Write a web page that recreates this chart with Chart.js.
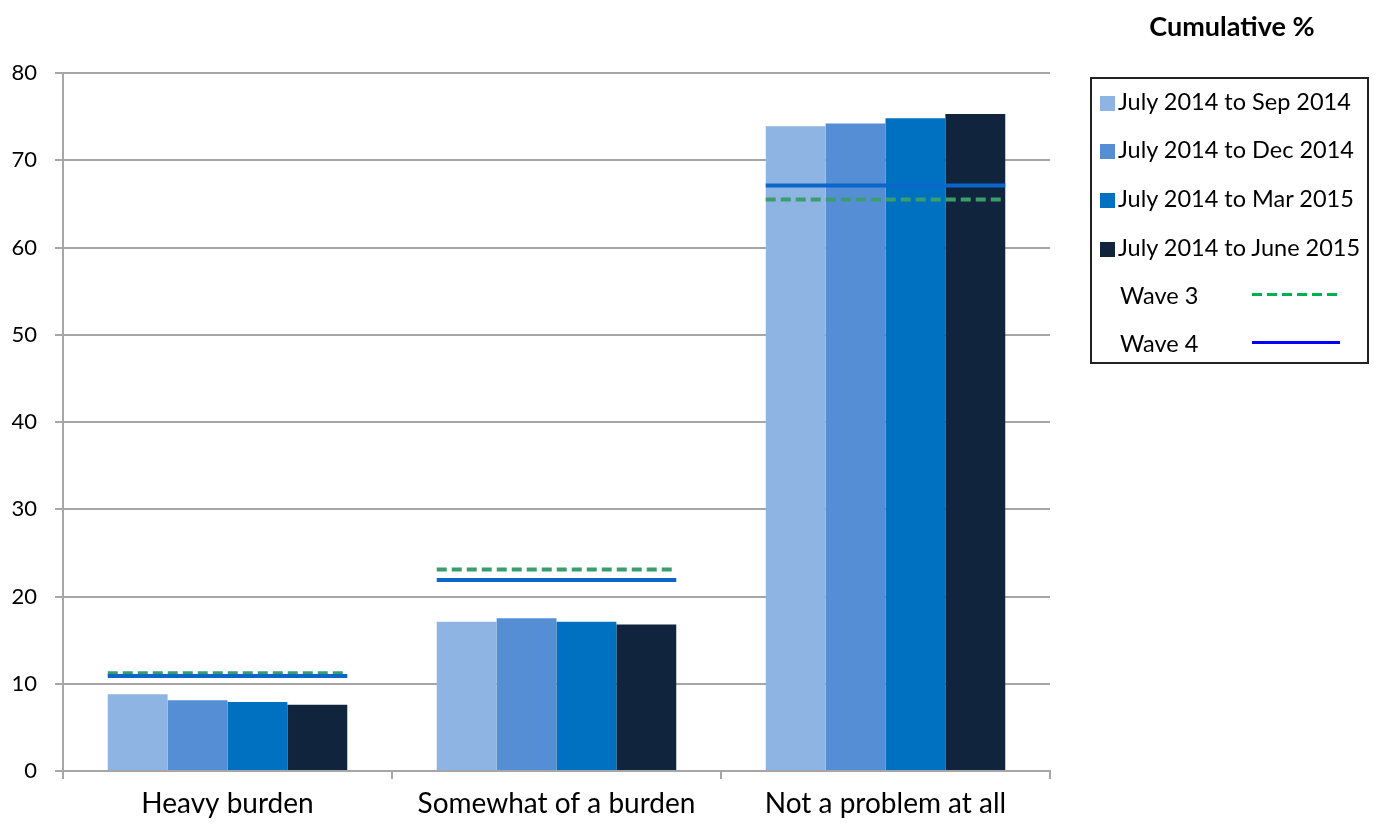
<!DOCTYPE html>
<html>
<head>
<meta charset="utf-8">
<script src="https://cdn.jsdelivr.net/npm/chart.js@4.4.1/dist/chart.umd.min.js"></script>
<style>
  html, body { margin: 0; padding: 0; background: #fff; }
  #wrap { position: relative; width: 1378px; height: 829px; }
  #titre {
    position: absolute; left: 1090px; width: 284px; top: 9px;
    text-align: center; font: bold 27px Lato, sans-serif; color: #000;
  }
  #legende {
    position: absolute; left: 1090px; top: 77px; width: 279px; height: 287px;
    border: 2px solid #222; box-sizing: border-box; font: 23.5px Lato, sans-serif; color: #000;
  }
  .item { position: absolute; left: 8px; height: 26px; line-height: 26px; white-space: nowrap; }
  .carre { display: inline-block; width: 15px; height: 15px; margin-right: 3px; vertical-align: -1px; }
  .trait { position: absolute; left: 132px; width: 88px; top: 11px; height: 3px; }
</style>
</head>
<body>
<div id="wrap">
  <canvas id="grafico" width="1378" height="829"></canvas>
  <div id="titre">Cumulative %</div>
  <div id="legende"></div>
</div>
<script>
// Dados do gráfico
const categorias = ['Heavy burden', 'Somewhat of a burden', 'Not a problem at all'];
const rotulosSeries = ['July 2014 to Sep 2014', 'July 2014 to Dec 2014', 'July 2014 to Mar 2015', 'July 2014 to June 2015'];
const set2014 = [8.8, 17.1, 73.9];
const dez2014 = [8.1, 17.5, 74.2];
const mar2015 = [7.9, 17.1, 74.8];
const jun2015 = [7.6, 16.8, 75.3];
const onda3 = [11.2, 23.1, 65.5];
const onda4 = [10.9, 21.9, 67.1];

const coresBarras = ['#8EB4E3', '#558ED5', '#0070C0', '#10243E'];
const cinza = '#a6a6a6';

// Desenha as linhas das ondas por cima de cada grupo de barras
const linhasOndas = {
  id: 'linhasOndas',
  afterDatasetsDraw(chart) {
    const ctx = chart.ctx;
    const y = chart.scales.y;
    const primeira = chart.getDatasetMeta(0).data;
    const ultima = chart.getDatasetMeta(3).data;
    const ondas = [
      { valores: onda3, cor: '#3a9d6c', tracejado: [10, 5] },
      { valores: onda4, cor: '#0a66c8', tracejado: [] }
    ];
    ondas.forEach(onda => {
      onda.valores.forEach((v, i) => {
        const esq = primeira[i].x - primeira[i].width / 2;
        const dir = ultima[i].x + ultima[i].width / 2;
        const py = y.getPixelForValue(v);
        ctx.save();
        ctx.strokeStyle = onda.cor;
        ctx.lineWidth = 4;
        ctx.setLineDash(onda.tracejado);
        ctx.beginPath();
        ctx.moveTo(esq, py);
        ctx.lineTo(dir, py);
        ctx.stroke();
        ctx.restore();
      });
    });
  }
};

const ctx = document.getElementById('grafico').getContext('2d');
new Chart(ctx, {
  type: 'bar',
  data: {
    labels: categorias,
    datasets: [set2014, dez2014, mar2015, jun2015].map((d, i) => ({
      label: rotulosSeries[i],
      data: d,
      backgroundColor: coresBarras[i],
      borderWidth: 0,
      barPercentage: 1,
      categoryPercentage: 0.728
    }))
  },
  options: {
    responsive: false,
    animation: false,
    layout: { padding: { top: 73, right: 328, left: 0, bottom: 0 } },
    plugins: { legend: { display: false }, tooltip: { enabled: false } },
    scales: {
      x: {
        grid: { drawOnChartArea: false, drawTicks: true, tickLength: 8, color: cinza, lineWidth: 2 },
        border: { color: cinza, width: 2 },
        ticks: { color: '#000', font: { family: 'Lato', size: 28 }, padding: 8 },
        afterFit(scale) { scale.height = 58; }
      },
      y: {
        min: 0, max: 80,
        grid: { color: cinza, lineWidth: 2, tickLength: 8 },
        border: { color: cinza, width: 2 },
        ticks: { stepSize: 10, color: '#000', font: { family: 'Lato', size: 22 }, padding: 18 },
        afterFit(scale) { scale.width = 63; }
      }
    }
  },
  plugins: [linhasOndas]
});

// Legenda em HTML
const legenda = document.getElementById('legende');
const topos = [9, 57, 106, 155, 203, 251];
rotulosSeries.forEach((r, i) => {
  const el = document.createElement('div');
  el.className = 'item';
  el.style.top = topos[i] + 'px';
  el.innerHTML = `<span class="carre" style="background:${coresBarras[i]}"></span>${r}`;
  legenda.appendChild(el);
});
const fundoOndas = [
  'repeating-linear-gradient(to right, #00b050 0 10px, transparent 10px 15px)',
  '#0000ff'
];
['Wave 3', 'Wave 4'].forEach((w, i) => {
  const el = document.createElement('div');
  el.className = 'item';
  el.style.top = topos[4 + i] + 'px';
  el.style.left = '28px';
  el.style.width = '240px';
  el.innerHTML = `${w}<span class="trait" style="background:${fundoOndas[i]}"></span>`;
  legenda.appendChild(el);
});
</script>
</body>
</html>
